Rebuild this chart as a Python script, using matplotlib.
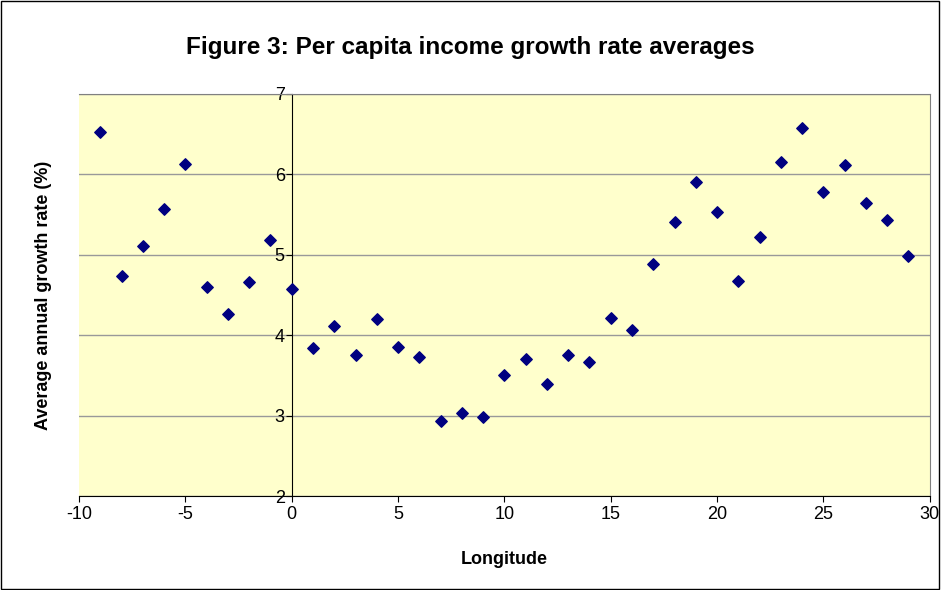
import matplotlib
matplotlib.use("Agg")
import matplotlib.pyplot as plt
from matplotlib.patches import Rectangle

longitude = list(range(-9, 30))
growth = [6.52, 4.73, 5.11, 5.57, 6.13, 4.60, 4.27, 4.66, 5.18, 4.58,
          3.84, 4.11, 3.75, 4.20, 3.86, 3.73, 2.93, 3.03, 2.99, 3.50,
          3.71, 3.40, 3.75, 3.67, 4.21, 4.06, 4.89, 5.41, 5.90, 5.53,
          4.67, 5.22, 6.15, 6.58, 5.78, 6.11, 5.64, 5.43, 4.99]
xticks = list(range(-10, 31, 5))
yticks = [2, 3, 4, 5, 6, 7]

plt.rcParams['font.family'] = ['Liberation Sans', 'DejaVu Sans']
plt.rcParams['axes.unicode_minus'] = False
fig = plt.figure(figsize=(9.41, 5.90), dpi=100)
fig.patches.append(Rectangle((0.001, 0.001), 0.997, 0.997, transform=fig.transFigure,
                             fill=False, edgecolor='black', linewidth=1))
ax = fig.add_axes([0.084, 0.159, 0.904, 0.682])
ax.set_facecolor('#FFFFCC')
ax.scatter(longitude, growth, marker='D', s=34, color='#000080', zorder=3)
ax.set_xlim(-10, 30)
ax.set_ylim(2, 7)
ax.set_xticks(xticks)
ax.set_yticks(yticks)
ax.yaxis.grid(True, color='#999999', linewidth=1)
ax.set_axisbelow(True)
for s in ['top', 'right']:
    ax.spines[s].set_color('#808080')
ax.spines['bottom'].set_color('black')
ax.spines['left'].set_position(('data', 0))
ax.spines['left'].set_color('black')
ax.tick_params(axis='y', direction='out', length=4, labelsize=13, pad=1)
ax.tick_params(axis='x', direction='out', length=4, labelsize=13, pad=3)
ax.set_xlabel('Longitude', fontsize=13, fontweight='bold', labelpad=20)
fig.text(0.046, 0.5, 'Average annual growth rate (%)', rotation=90, fontsize=13,
         fontweight='bold', ha='center', va='center')
fig.text(0.5, 0.92, 'Figure 3: Per capita income growth rate averages', fontsize=17.5,
         fontweight='bold', ha='center', va='center')
fig.savefig('out.png', dpi=100)
